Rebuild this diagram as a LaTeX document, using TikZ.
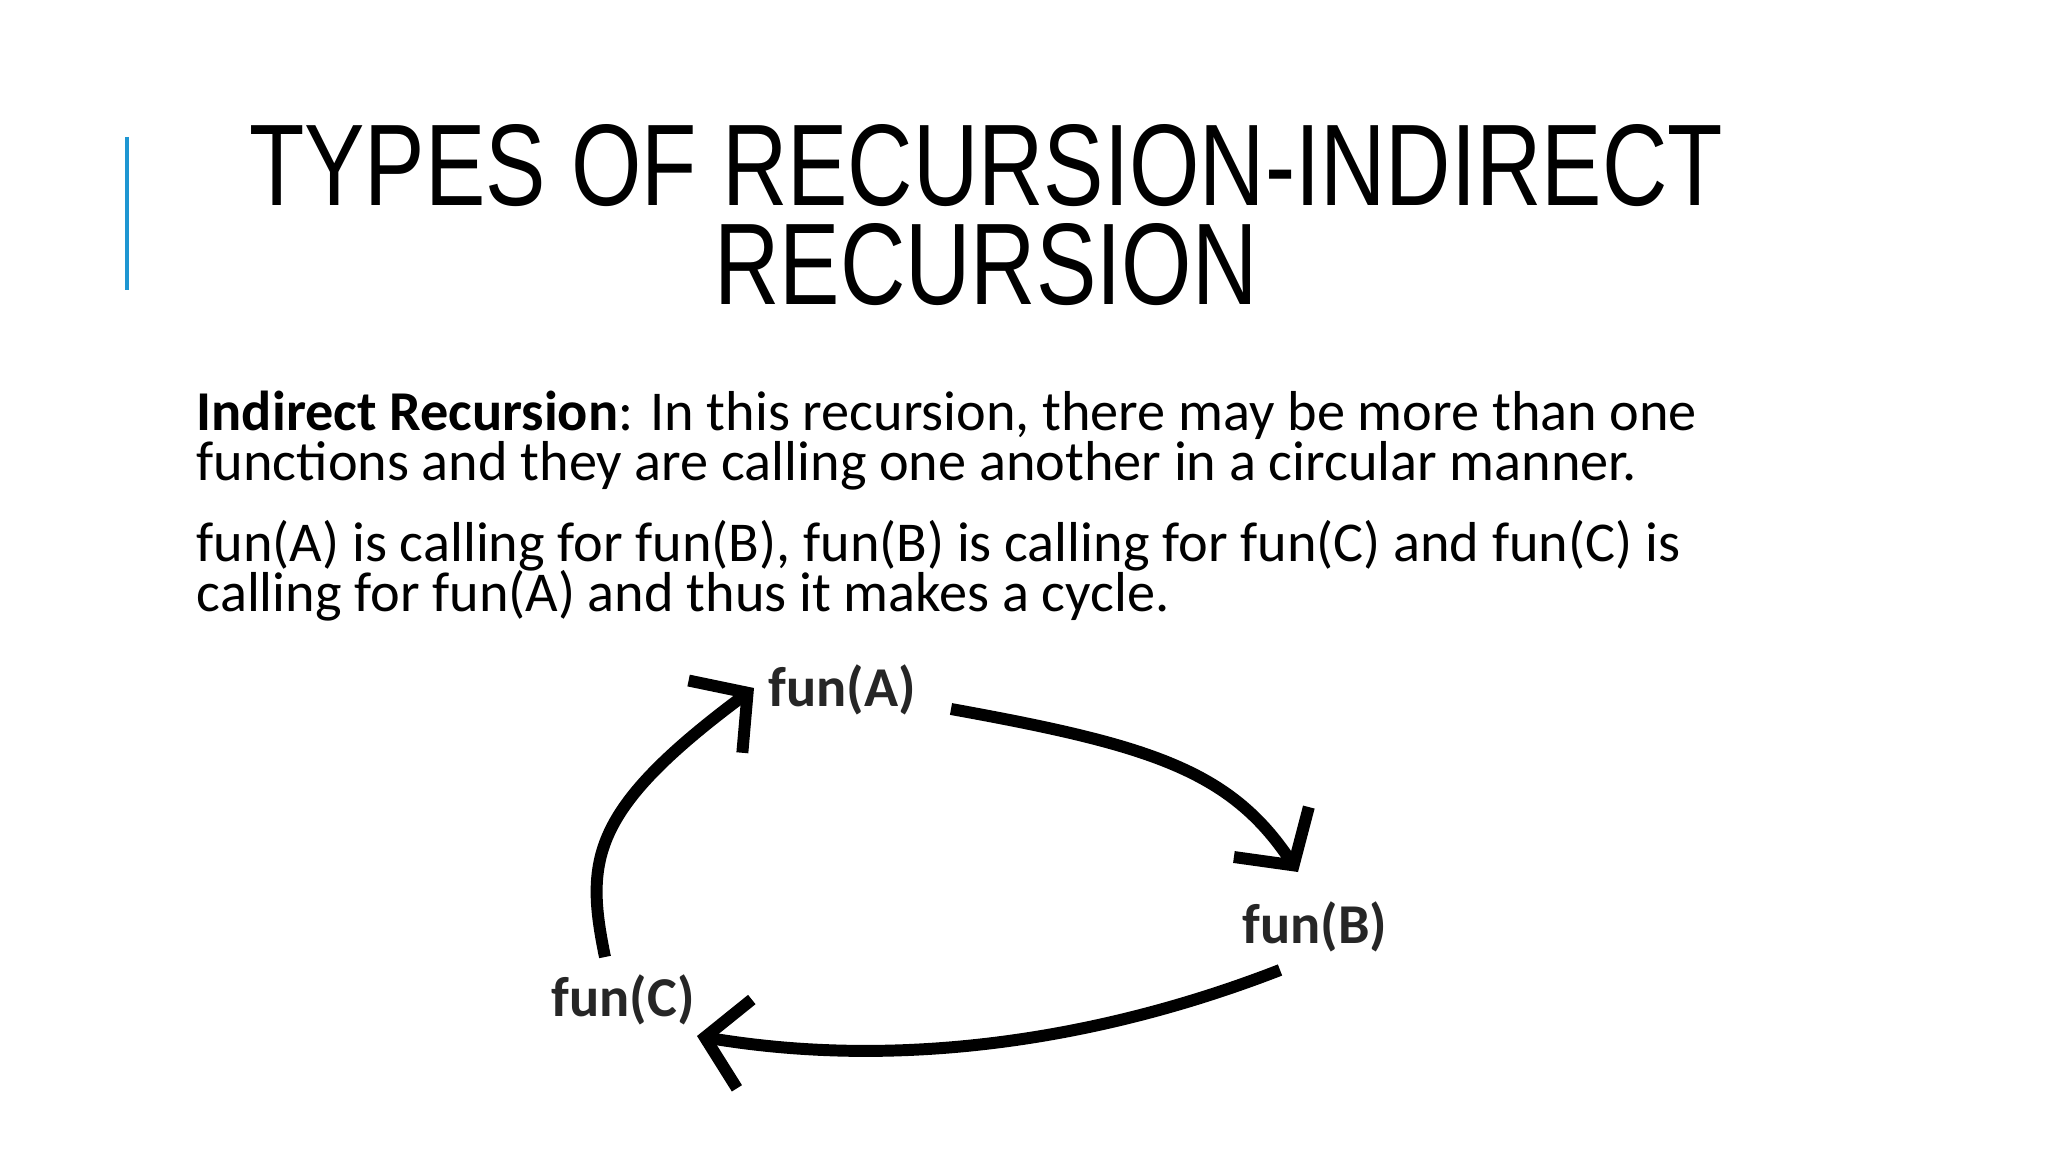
\documentclass[tikz,border=0pt]{standalone}
\usepackage{fontspec}
\setmainfont{Carlito}
\newfontfamily\titlefont[FakeStretch=0.78]{Liberation Sans}
\usetikzlibrary{arrows.meta}
\tikzset{
  lbl/.style={font=\fontsize{16}{18}\selectfont\bfseries, text=black!85},
  cyc/.style={line width=3.4pt, -{Straight Barb[length=4mm,width=9mm,line width=3.4pt]}},
  body/.style={anchor=base west, font=\fontsize{16}{18}\selectfont, inner sep=0pt}
}
\begin{document}
\begin{tikzpicture}[x=0.01cm,y=-0.01cm]
\useasboundingbox[fill=white] (0,0) rectangle (2048,1152);
\draw[line width=1.3pt, color={rgb,255:red,30;green,150;blue,210}] (127,137) -- (127,290);
\node[font=\titlefont\fontsize{33}{28}\selectfont, align=center, inner sep=0pt] (title) at (986,215) {TYPES OF RECURSION-INDIRECT\\RECURSION};
\node[body] (l1) at (196,431) {\textbf{Indirect Recursion}: In this recursion, there may be more than one};
\node[body] (l2) at (196,481) {functions and they are calling one another in a circular manner.};
\node[body] (l3) at (196,562) {fun(A) is calling for fun(B), fun(B) is calling for fun(C) and fun(C) is};
\node[body] (l4) at (196,612) {calling for fun(A) and thus it makes a cycle.};
\node[lbl] (A) at (842,690) {fun(A)};
\node[lbl] (B) at (1315,927) {fun(B)};
\node[lbl] (C) at (623,1000) {fun(C)};
\coordinate (a1) at (951,709);
\coordinate (a2) at (1298,872);
\coordinate (b1) at (1280,970);
\coordinate (b2) at (697,1036);
\coordinate (c1) at (605,957);
\coordinate (c2) at (754,688);
\draw[cyc] (a1) .. controls (1150,745) and (1230,770) .. (a2);
\draw[cyc] (b1) .. controls (1100,1040) and (900,1070) .. (b2);
\draw[cyc] (c1) .. controls (585,860) and (590,810) .. (c2);
\end{tikzpicture}
\end{document}
